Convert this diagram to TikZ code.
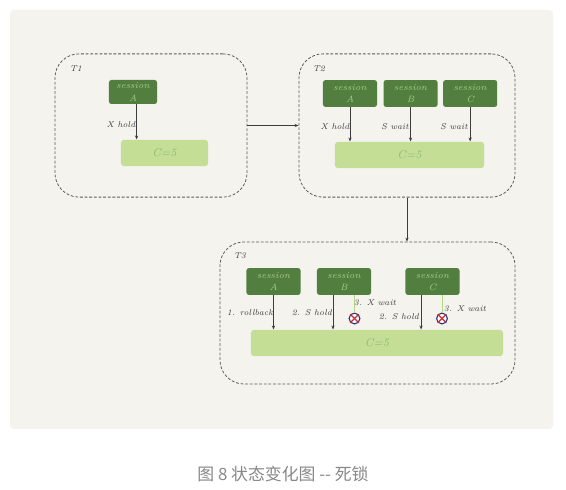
\documentclass[tikz,border=0pt]{standalone}
\usepackage{fontspec}
\newfontfamily\cjkfont{Noto Sans CJK SC}
\usepackage{tikz}
\usetikzlibrary{
    arrows.meta,
    positioning,
    calc
}
\definecolor{PanelGray}{RGB}{244,243,238}
\definecolor{SessionGreen}{RGB}{82,127,63}
\definecolor{SessionText}{RGB}{165,208,135}
\definecolor{RowGreen}{RGB}{196,222,150}
\definecolor{RowText}{RGB}{143,186,110}
\definecolor{WaitGreen}{RGB}{178,214,130}
\definecolor{LineGray}{RGB}{60,60,60}
\definecolor{DashGray}{RGB}{90,90,90}
\definecolor{CaptionGray}{RGB}{135,135,135}
\definecolor{StopBlue}{RGB}{40,60,125}
\definecolor{StopRed}{RGB}{215,40,50}

\begin{document}
\begin{tikzpicture}[
    x=0.025cm,
    y=-0.025cm,
    state/.style={
        draw=DashGray,
        dash pattern=on 2pt off 1.3pt,
        line width=0.55pt,
        rounded corners=0.6cm,
        inner sep=0pt
    },
    session/.style={
        fill=SessionGreen,
        rounded corners=0.6mm,
        text=SessionText,
        minimum width=1.35cm,
        minimum height=0.67cm,
        inner sep=0pt,
        align=center,
        font=\fontsize{6.5}{9}\selectfont\itshape
    },
    row/.style={
        fill=RowGreen,
        rounded corners=0.8mm,
        text=RowText,
        minimum height=0.66cm,
        inner sep=0pt,
        font=\fontsize{8}{9}\selectfont\itshape
    },
    tag/.style={
        inner sep=0pt,
        text=LineGray,
        font=\fontsize{6}{7}\selectfont\itshape
    },
    stopmark/.style={
        circle,
        draw=StopBlue,
        fill=white,
        line width=0.8pt,
        minimum size=0.27cm,
        inner sep=0pt
    },
    cross/.style={
        line width=0.9pt,
        color=StopRed
    },
    arrow/.style={
        -{Stealth[length=1mm,width=0.8mm]},
        line width=0.5pt,
        color=LineGray
    },
    wait/.style={
        line width=0.5pt,
        color=WaitGreen
    }
]
\useasboundingbox (0,0) rectangle (566,490);
%
\fill[PanelGray, rounded corners=1mm] (10,10) rectangle (553,429);
%
\node[state, minimum width=4.8cm, minimum height=3.58cm] (t1) at (151,125.5) {};
\node[state, minimum width=5.4cm, minimum height=3.58cm] (t2) at (407,125.5) {};
\node[state, minimum width=7.375cm, minimum height=3.55cm] (t3) at (367.5,313) {};
%
\node[tag] (t1label) at (76,69) {T1};
\node[tag] (t2label) at (319,69) {T2};
\node[tag] (t3label) at (240,256) {T3};
%
\node[session, minimum width=1.2cm, minimum height=0.6cm] (a1) at (133,92) {session\\A};
\node[row, minimum width=2.18cm] (c1) at (164.5,153) {C=5};
%
\node[session] (a2) at (350,93.5) {session\\A};
\node[session, right=0.15cm of a2] (b2) {session\\B};
\node[session, right=0.125cm of b2] (c2) {session\\C};
\node[row, minimum width=3.73cm] (c5) at (409.5,155) {C=5};
%
\node[session] (a3) at (273.5,281.5) {session\\A};
\node[session] (b3) at (344,281.5) {session\\B};
\node[session] (c3) at (432.5,281.5) {session\\C};
\node[row, minimum width=6.3cm] (c9) at (377,343) {C=5};
%
\node[stopmark] (stopb) at (354.5,318.5) {};
\node[stopmark] (stopc) at (442,318.5) {};
\draw[cross] (stopb.north west) -- (stopb.south east);
\draw[cross] (stopb.north east) -- (stopb.south west);
\draw[cross] (stopc.north west) -- (stopc.south east);
\draw[cross] (stopc.north east) -- (stopc.south west);
%
\draw[arrow] ([xshift=0.09cm]a1.south) -- ([xshift=0.09cm]a1.south |- c1.north);
\draw[arrow] (a2.south) -- (a2.south |- c5.north);
\draw[arrow] (b2.south) -- (b2.south |- c5.north);
\draw[arrow] (c2.south) -- (c2.south |- c5.north);
\draw[arrow] (a3.south) -- (a3.south |- c9.north);
\draw[arrow] ([xshift=-0.275cm]b3.south) -- ([xshift=-0.275cm]b3.south |- c9.north);
\draw[arrow, line width=0.8pt] ([xshift=-0.285cm]c3.south) -- ([xshift=-0.285cm]c3.south |- c9.north);
%
\draw[wait] (stopb.north |- b3.south) -- (stopb.north);
\draw[wait] (stopc.north |- c3.south) -- (stopc.north);
%
\draw[arrow] (t1.east) -- (t2.west);
\draw[arrow] (t2.south) -- (t3.north -| t2.south);
%
\node[tag] (xhold1) at (121,125) {X hold};
\node[tag] (xhold2) at (335,127) {X hold};
\node[tag] (swait1) at (395,127) {S wait};
\node[tag] (swait2) at (454,127) {S wait};
\node[tag] (rollback) at (250,313) {1. rollback};
\node[tag] (shold1) at (312,313) {2. S hold};
\node[tag] (shold2) at (399,317) {2. S hold};
\node[tag] (xwait1) at (375,303) {3. X wait};
\node[tag] (xwait2) at (465,309) {3. X wait};
%
\node[text=CaptionGray, inner sep=0pt, font=\fontsize{12}{14}\selectfont\cjkfont] (caption) at (283,474) {图 8 状态变化图 -{}- 死锁};
%
\end{tikzpicture}
\end{document}
